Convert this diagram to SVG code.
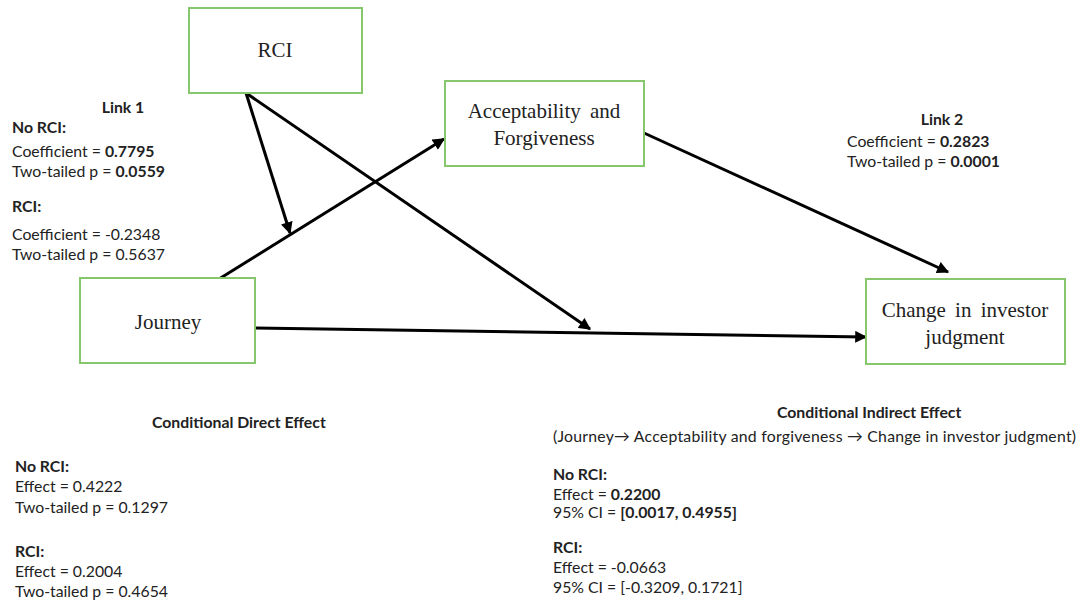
<svg xmlns="http://www.w3.org/2000/svg" width="1080" height="613" viewBox="0 0 1080 613">
  <defs>
    <marker id="arrow" viewBox="0 0 10 10" refX="9" refY="5" markerWidth="4.2" markerHeight="4" markerUnits="strokeWidth" orient="auto">
      <path d="M0,0 L10,5 L0,10 z" fill="#000"/>
    </marker>
    <style>
      .box { fill: #fff; stroke: #86c66c; stroke-width: 2; }
      .lbl { font-family: "Liberation Serif", "Times New Roman", serif; font-size: 21px; word-spacing: 4px; fill: #222; text-anchor: middle; }
      .edge { fill: none; stroke: #000; stroke-width: 3; marker-end: url(#arrow); }
      .note { font-family: Lato, "Liberation Sans", sans-serif; font-size: 15.8px; fill: #222; }
      .b { font-weight: bold; }
      .mid { text-anchor: middle; }
    </style>
  </defs>
  <rect width="1080" height="613" fill="#fff"/>

  <!-- connectors -->
  <g id="connectors">
    <line class="edge" x1="246" y1="93" x2="290" y2="233"/>
    <line class="edge" x1="246" y1="93" x2="590" y2="329"/>
    <line class="edge" x1="219" y1="279" x2="444" y2="139"/>
    <line class="edge" x1="255" y1="328" x2="866" y2="337"/>
    <line class="edge" x1="644" y1="133" x2="948" y2="272"/>
  </g>

  <!-- nodes -->
  <g id="node-rci">
    <rect class="box" x="189" y="8" width="173" height="85"/>
    <text class="lbl" x="275" y="57">RCI</text>
  </g>
  <g id="node-acceptability">
    <rect class="box" x="445" y="81" width="199" height="85"/>
    <text class="lbl" x="544" y="118">Acceptability and</text>
    <text class="lbl" x="544" y="145">Forgiveness</text>
  </g>
  <g id="node-journey">
    <rect class="box" x="80" y="278" width="175" height="85"/>
    <text class="lbl" x="168" y="329">Journey</text>
  </g>
  <g id="node-change">
    <rect class="box" x="866" y="279" width="199" height="85"/>
    <text class="lbl" x="965" y="317">Change in investor</text>
    <text class="lbl" x="965" y="344">judgment</text>
  </g>

  <!-- Link 1 statistics -->
  <g id="link1-stats" class="note">
    <text class="b mid" x="123" y="113">Link 1</text>
    <text class="b" x="12" y="133">No RCI:</text>
    <text x="12" y="157">Coefficient = <tspan class="b">0.7795</tspan></text>
    <text x="12" y="177">Two-tailed p = <tspan class="b">0.0559</tspan></text>
    <text class="b" x="12" y="212">RCI:</text>
    <text x="12" y="240">Coefficient = -0.2348</text>
    <text x="12" y="260">Two-tailed p = 0.5637</text>
  </g>

  <!-- Link 2 statistics -->
  <g id="link2-stats" class="note">
    <text class="b mid" x="942" y="125">Link 2</text>
    <text x="847" y="147">Coefficient = <tspan class="b">0.2823</tspan></text>
    <text x="847" y="167">Two-tailed p = <tspan class="b">0.0001</tspan></text>
  </g>

  <!-- Conditional direct effect -->
  <g id="direct-effect" class="note">
    <text class="b" x="152" y="428">Conditional Direct Effect</text>
    <text class="b" x="15" y="472">No RCI:</text>
    <text x="15" y="492">Effect = 0.4222</text>
    <text x="15" y="513">Two-tailed p = 0.1297</text>
    <text class="b" x="15" y="557">RCI:</text>
    <text x="15" y="577">Effect = 0.2004</text>
    <text x="15" y="597">Two-tailed p = 0.4654</text>
  </g>

  <!-- Conditional indirect effect -->
  <g id="indirect-effect" class="note">
    <text class="b" x="777" y="418">Conditional Indirect Effect</text>
    <text x="553" y="442" textLength="523" lengthAdjust="spacing">(Journey→ Acceptability and forgiveness → Change in investor judgment)</text>
    <text class="b" x="553" y="480">No RCI:</text>
    <text x="553" y="500">Effect = <tspan class="b">0.2200</tspan></text>
    <text x="553" y="518">95% CI = <tspan class="b">[0.0017, 0.4955]</tspan></text>
    <text class="b" x="553" y="553">RCI:</text>
    <text x="553" y="573">Effect = -0.0663</text>
    <text x="553" y="593">95% CI = [-0.3209, 0.1721]</text>
  </g>
</svg>
